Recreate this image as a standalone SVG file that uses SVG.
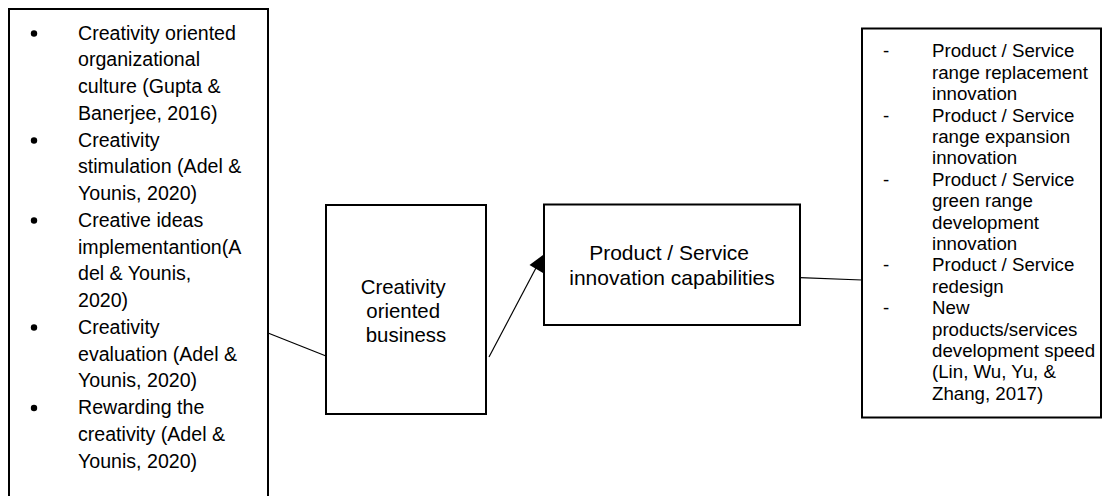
<svg xmlns="http://www.w3.org/2000/svg" width="1105" height="496" viewBox="0 0 1105 496">
  <style>
    .box { fill: #ffffff; stroke: #000000; stroke-width: 2; }
    .link { fill: none; stroke: #000000; stroke-width: 1.2; }
    .txt { font-family: "Liberation Sans", Arial, sans-serif; fill: #000000; }
    .left { font-size: 19.6px; }
    .mid { font-size: 20.4px; text-anchor: middle; }
    .prod { font-size: 21px; text-anchor: middle; }
    .right { font-size: 18.7px; }
  </style>
  <rect width="1105" height="496" fill="#ffffff"/>

  <!-- connectors -->
  <g id="connectors">
    <line class="link" x1="268" y1="333" x2="326" y2="356"/>
    <line class="link" x1="489" y1="357" x2="537" y2="266"/>
    <polygon points="543,255 543,273 529.5,265" fill="#000000"/>
    <line class="link" x1="800" y1="277.7" x2="862" y2="280"/>
  </g>

  <!-- factors of a creativity oriented business -->
  <g id="factors">
    <rect class="box" x="9" y="9" width="259" height="510"/>
    <g fill="#000000">
      <circle cx="34" cy="33.5" r="3.2"/>
      <circle cx="34" cy="140.5" r="3.2"/>
      <circle cx="34" cy="220.5" r="3.2"/>
      <circle cx="34" cy="327.5" r="3.2"/>
      <circle cx="34" cy="408" r="3.2"/>
    </g>
    <text class="txt left">
      <tspan x="78" y="39.5">Creativity oriented</tspan>
      <tspan x="78" y="66.3">organizational</tspan>
      <tspan x="78" y="93">culture (Gupta &amp;</tspan>
      <tspan x="78" y="119.8">Banerjee, 2016)</tspan>
      <tspan x="78" y="146.5">Creativity</tspan>
      <tspan x="78" y="173.3">stimulation (Adel &amp;</tspan>
      <tspan x="78" y="200">Younis, 2020)</tspan>
      <tspan x="78" y="226.8">Creative ideas</tspan>
      <tspan x="78" y="253.5">implementantion(A</tspan>
      <tspan x="78" y="280.3">del &amp; Younis,</tspan>
      <tspan x="78" y="307">2020)</tspan>
      <tspan x="78" y="333.8">Creativity</tspan>
      <tspan x="78" y="360.5">evaluation (Adel &amp;</tspan>
      <tspan x="78" y="387.3">Younis, 2020)</tspan>
      <tspan x="78" y="414">Rewarding the</tspan>
      <tspan x="78" y="440.8">creativity (Adel &amp;</tspan>
      <tspan x="78" y="467.5">Younis, 2020)</tspan>
    </text>
  </g>

  <!-- creativity oriented business -->
  <g id="business">
    <rect class="box" x="326" y="205" width="160" height="209"/>
    <text class="txt mid">
      <tspan x="406" y="293.5">Creativity</tspan>
      <tspan x="406" y="317.8">oriented</tspan>
      <tspan x="406" y="342">business</tspan>
    </text>
  </g>

  <!-- product / service innovation capabilities -->
  <g id="capabilities">
    <rect class="box" x="544" y="204.5" width="256" height="120.5"/>
    <text class="txt prod">
      <tspan x="672" y="260">Product / Service</tspan>
      <tspan x="672" y="285">innovation capabilities</tspan>
    </text>
  </g>

  <!-- dimensions of innovation capabilities -->
  <g id="dimensions">
    <rect class="box" x="862" y="28.5" width="239" height="389"/>
    <text class="txt right">
      <tspan x="883" y="57.3">-</tspan>
      <tspan x="883" y="121.5">-</tspan>
      <tspan x="883" y="185.7">-</tspan>
      <tspan x="883" y="271.3">-</tspan>
      <tspan x="883" y="314.1">-</tspan>
    </text>
    <text class="txt right">
      <tspan x="932" y="57.3">Product / Service</tspan>
      <tspan x="932" y="78.7">range replacement</tspan>
      <tspan x="932" y="100.1">innovation</tspan>
      <tspan x="932" y="121.5">Product / Service</tspan>
      <tspan x="932" y="142.9">range expansion</tspan>
      <tspan x="932" y="164.3">innovation</tspan>
      <tspan x="932" y="185.7">Product / Service</tspan>
      <tspan x="932" y="207.1">green range</tspan>
      <tspan x="932" y="228.5">development</tspan>
      <tspan x="932" y="249.9">innovation</tspan>
      <tspan x="932" y="271.3">Product / Service</tspan>
      <tspan x="932" y="292.7">redesign</tspan>
      <tspan x="932" y="314.1">New</tspan>
      <tspan x="932" y="335.5">products/services</tspan>
      <tspan x="932" y="356.9">development speed</tspan>
      <tspan x="932" y="378.3">(Lin, Wu, Yu, &amp;</tspan>
      <tspan x="932" y="399.7">Zhang, 2017)</tspan>
    </text>
  </g>
</svg>
